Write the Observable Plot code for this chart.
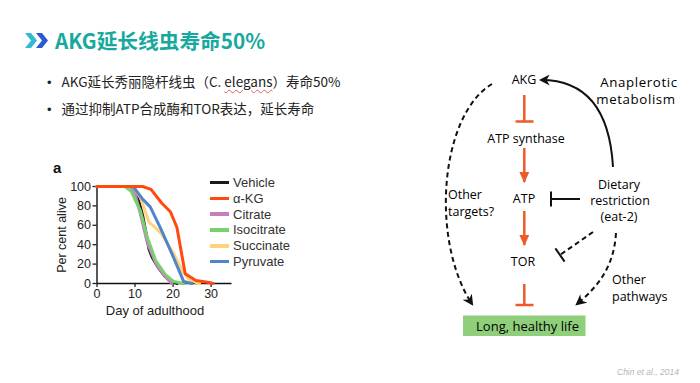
<!DOCTYPE html>
<html>
<head>
<meta charset="utf-8">
<script src="https://cdn.jsdelivr.net/npm/d3@7"></script>
<script src="https://cdn.jsdelivr.net/npm/@observablehq/plot@0.6"></script>
<style>
  html, body { margin: 0; padding: 0; background: #fff; }
  #page { position: relative; width: 700px; height: 383px; overflow: hidden; background: #fff; }
  .abs { position: absolute; white-space: nowrap; }
  #title { left: 55px; top: 28px; font: bold 20.7px/24px "Noto Sans CJK SC", sans-serif; color: #17a89e; }
  .bullet { left: 47px; font: 13.5px/20px "Noto Sans CJK SC", sans-serif; color: #222; }
  .bullet span.dot { display: inline-block; width: 14.5px; font-family: "Liberation Sans", Arial, sans-serif; font-size: 13px; }
  .wavy { text-decoration: underline wavy #e06060; text-decoration-thickness: 1px; text-underline-offset: 2px; }
  #panel { left: 53px; top: 159px; font: bold 15px "Liberation Sans", Arial, sans-serif; color: #111; }
  #chart { left: 40px; top: 160px; }
  #xlabel { left: 155px; top: 302px; transform: translateX(-50%); font: 13px/17px "Liberation Sans", Arial, sans-serif; color: #222; }
  #legend { left: 210px; top: 175px; font: 13px/15.8px "Liberation Sans", Arial, sans-serif; color: #333; }
  #legend .sw { display: inline-block; width: 19px; height: 3.5px; margin-right: 4px; vertical-align: middle; position: relative; top: -1px; }
  #cite { left: 617px; top: 367px; font: italic 8.5px "Liberation Sans", Arial, sans-serif; color: #b5b5b5; }
</style>
</head>
<body>
<div id="page">
  <svg class="abs" style="left:0;top:0" width="60" height="60">
    <polygon points="25,33 31,33 37,40.5 31,48 25,48 31,40.5" fill="#35b8d6"/>
    <polygon points="36,33 42,33 48,40.5 42,48 36,48 42,40.5" fill="#2a5cd0"/>
  </svg>
  <div id="title" class="abs">AKG延长线虫寿命50%</div>
  <div class="abs bullet" style="top:71px"><span class="dot">•</span>AKG延长秀丽隐杆线虫（C. <span class="wavy">elegans</span>）寿命50%</div>
  <div class="abs bullet" style="top:98px"><span class="dot">•</span>通过抑制ATP合成酶和TOR表达，延长寿命</div>

  <div id="panel" class="abs">a</div>
  <div id="chart" class="abs"></div>
  <div id="xlabel" class="abs">Day of adulthood</div>
  <div id="legend" class="abs"></div>

  <svg id="diagram" class="abs" style="left:0;top:0" width="700" height="383">
    <defs>
      <marker id="blk" viewBox="0 0 10 10" refX="8" refY="5" markerWidth="11" markerHeight="11" markerUnits="userSpaceOnUse" orient="auto">
        <path d="M0,0 L10,5 L0,10 L3,5 z" fill="#111"/>
      </marker>
      <marker id="red" viewBox="0 0 10 10" refX="9" refY="5" markerWidth="11" markerHeight="11" markerUnits="userSpaceOnUse" orient="auto">
        <path d="M0,0.5 L10,5 L0,9.5 z" fill="#ef5a2a"/>
      </marker>
    </defs>
    <g font-family="'Open Sans', sans-serif" font-size="12.5" fill="#000" dominant-baseline="central">
      <text x="524" y="79" text-anchor="middle">AKG</text>
      <text x="526" y="138" text-anchor="middle">ATP synthase</text>
      <text x="524" y="198" text-anchor="middle">ATP</text>
      <text x="523" y="261" text-anchor="middle">TOR</text>
      <text x="639" y="82" text-anchor="middle" font-size="13.3" letter-spacing="0.6">Anaplerotic</text>
      <text x="636" y="99" text-anchor="middle" font-size="13.3" letter-spacing="0.6">metabolism</text>
      <text x="619" y="184" text-anchor="middle">Dietary</text>
      <text x="620" y="200" text-anchor="middle">restriction</text>
      <text x="619" y="216.5" text-anchor="middle">(eat-2)</text>
      <text x="448" y="194">Other</text>
      <text x="448" y="211">targets?</text>
      <text x="612" y="279">Other</text>
      <text x="612" y="296">pathways</text>
    </g>
    <rect x="463" y="315.5" width="122.5" height="20.5" fill="#8fcf7b"/>
    <text x="527.5" y="326" text-anchor="middle" dominant-baseline="central" font-family="'Open Sans', sans-serif" font-size="13" fill="#000">Long, healthy life</text>

    <g stroke="#ef5a2a" stroke-width="2.5" fill="none">
      <line x1="524.3" y1="95" x2="524.3" y2="121.5"/>
      <line x1="515.5" y1="121.5" x2="533.5" y2="121.5"/>
      <line x1="524.3" y1="148" x2="524.3" y2="182" marker-end="url(#red)"/>
      <line x1="524.3" y1="211" x2="524.3" y2="245" marker-end="url(#red)"/>
      <line x1="524.3" y1="284" x2="524.3" y2="305"/>
      <line x1="515.5" y1="305" x2="533.5" y2="305"/>
    </g>
    <g stroke="#111" stroke-width="2" fill="none">
      <line x1="551" y1="199" x2="580" y2="199"/>
      <line x1="551" y1="191.5" x2="551" y2="206.5"/>
      <path d="M613,167 C610,115 590,80 541,80" marker-end="url(#blk)"/>
      <g stroke-dasharray="5 3.5">
        <path d="M492,84 C440,115 430,240 472,304" marker-end="url(#blk)"/>
        <path d="M616,233 C614,265 600,285 577,304" marker-end="url(#blk)"/>
        <line x1="593" y1="232" x2="560" y2="255"/>
      </g>
      <line x1="555.4" y1="248.4" x2="564.6" y2="261.6"/>
    </g>
  </svg>

  <div id="cite" class="abs">Chin et al., 2014</div>
</div>

<script>
// ---- Data ----
const seriesNames = ["Vehicle", "α-KG", "Citrate", "Isocitrate", "Succinate", "Pyruvate"];
const seriesColors = ["#1a1a1a", "#ff4a0f", "#c47fc0", "#79d16d", "#ffd27c", "#4f86c8"];
const xTicks = [0, 10, 20, 30];
const yTicks = [0, 20, 40, 60, 80, 100];

// [day, per cent alive]
const vehicle    = [[0,100],[9,100],[10,93],[11,85],[12,70],[13,50],[13.7,35],[14.5,27],[16,17],[18,7],[20,2],[21,0]];
const akg        = [[0,100],[12,100],[14.2,97],[17,83],[19.3,74],[21,58],[23.2,10],[26,3],[29.5,1],[30.5,0]];
const citrate    = [[0,100],[9,100],[10,92],[11.4,72],[13.2,42],[15.8,18],[18.4,5],[19.7,0]];
const isocitrate = [[0,100],[7.3,100],[9,95],[11.4,75],[13.2,48],[15.4,24],[18,9],[20.2,2],[22.8,0]];
const succinate  = [[0,100],[9.5,100],[11.5,88],[13.7,63],[15.5,57],[17,51],[20,32],[22.5,13],[24,5],[26,1],[27,0]];
const pyruvate   = [[0,100],[9.5,100],[12,87],[14,79],[16.7,57],[20,28],[22.8,2],[25,0]];

const bySeries = {"Vehicle": vehicle, "α-KG": akg, "Citrate": citrate, "Isocitrate": isocitrate, "Succinate": succinate, "Pyruvate": pyruvate};
const drawOrder = ["Vehicle", "Citrate", "Isocitrate", "Succinate", "Pyruvate", "α-KG"];
const rows = drawOrder.flatMap(s => bySeries[s].map(([day, pct]) => ({series: s, day, pct})));

const chart = Plot.plot({
  width: 200,
  height: 160,
  marginLeft: 56.5,
  marginRight: 8.5,
  marginTop: 26,
  marginBottom: 37,
  style: {fontFamily: "'Liberation Sans', Arial, sans-serif", fontSize: "12.5px", color: "#222", background: "transparent"},
  x: {domain: [0, 35.5]},
  y: {domain: [0, 100]},
  color: {domain: seriesNames, range: seriesColors},
  marks: [
    Plot.axisX({ticks: xTicks, tickSize: 4, tickPadding: 2, tickFormat: d => d, label: null, fontSize: 12.5, strokeWidth: 1.3}),
    Plot.axisY({ticks: yTicks, tickSize: 4, tickPadding: 2, tickFormat: d => d, label: "Per cent alive", labelAnchor: "center", labelArrow: "none", labelOffset: 40, fontSize: 12.5, strokeWidth: 1.3}),
    Plot.ruleX([0], {stroke: "#111", strokeWidth: 1.4}),
    Plot.ruleY([0], {stroke: "#111", strokeWidth: 1.4}),
    Plot.line(rows, {x: "day", y: "pct", z: "series", stroke: "series", strokeWidth: 3, strokeLinejoin: "round"})
  ]
});
document.getElementById("chart").appendChild(chart);

// legend built from the same series arrays
const legend = document.getElementById("legend");
seriesNames.forEach((name, i) => {
  const row = document.createElement("div");
  const sw = document.createElement("span");
  sw.className = "sw";
  sw.style.background = seriesColors[i];
  row.appendChild(sw);
  row.appendChild(document.createTextNode(name));
  legend.appendChild(row);
});
</script>
</body>
</html>
